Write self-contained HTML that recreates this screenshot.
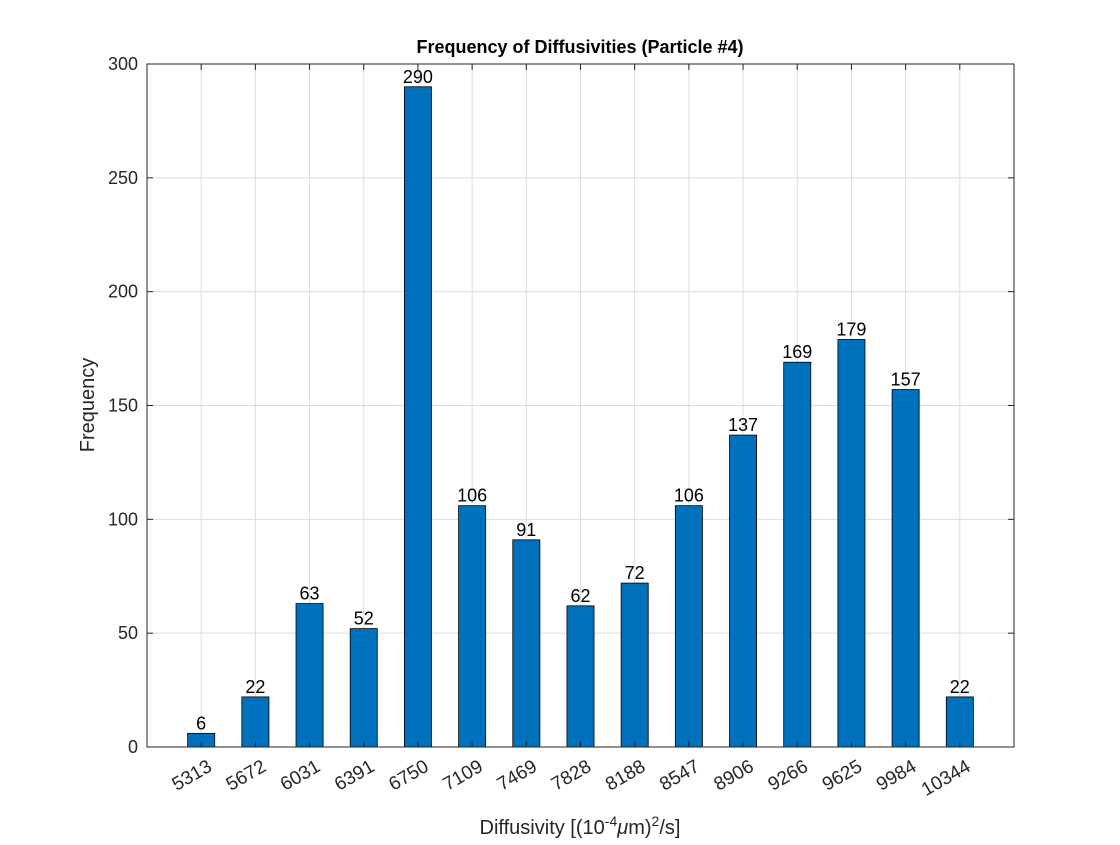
<!DOCTYPE html>
<html><head><meta charset="utf-8"><style>
body{margin:0;background:#fff;}
svg text{font-family:"Liberation Sans",Arial,sans-serif;}
</style></head><body>
<svg id="chart" width="1120" height="840" viewBox="0 0 1120 840"></svg>
<script>
const categories=["5313","5672","6031","6391","6750","7109","7469","7828","8188","8547","8906","9266","9625","9984","10344"];
const counts=[6,22,63,52,290,106,91,62,72,106,137,169,179,157,22];
const yTicks=[0,50,100,150,200,250,300];
const L=147,R=1014,T=64,B=747;
const xs=i=>L+(i+1)*(R-L)/16;
const ys=v=>B-v*(B-T)/300;
const svg=document.getElementById('chart');
const NS='http://www.w3.org/2000/svg';
function mk(tag,attrs,parent){const e=document.createElementNS(NS,tag);for(const k in attrs)e.setAttribute(k,attrs[k]);(parent||svg).appendChild(e);return e;}
const grid=mk('g',{});


yTicks.forEach(v=>{mk('line',{x1:L,x2:R,y1:ys(v),y2:ys(v),stroke:'#dcdcdc','stroke-width':1},grid);});
categories.forEach((c,i)=>{mk('line',{x1:xs(i),x2:xs(i),y1:T,y2:B,stroke:'#dcdcdc','stroke-width':1},grid);});
const bars=mk('g',{});


const bw=0.5*(R-L)/16;
counts.forEach((v,i)=>{
  const r=mk('rect',{x:xs(i)-bw/2,y:ys(v),width:bw,height:ys(0)-ys(v),fill:'#0072bd',stroke:'#000','stroke-width':0.8},bars);
  
  
  const t=mk('text',{x:xs(i),y:ys(v)-4,'text-anchor':'middle','font-size':18,fill:'#000'},bars);
  t.textContent=v;
  
  
});
const ax=mk('g',{});


mk('rect',{x:L,y:T,width:R-L,height:B-T,fill:'none',stroke:'#262626','stroke-width':1},ax);
yTicks.forEach(v=>{
  mk('line',{x1:L,x2:L+6,y1:ys(v),y2:ys(v),stroke:'#262626'},ax);
  mk('line',{x1:R,x2:R-6,y1:ys(v),y2:ys(v),stroke:'#262626'},ax);
  const t=mk('text',{x:L-9,y:ys(v)+6,'text-anchor':'end','font-size':18,fill:'#262626'},ax);
  t.textContent=v;
  
  
});
categories.forEach((c,i)=>{
  mk('line',{x1:xs(i),x2:xs(i),y1:B,y2:B-6,stroke:'#262626'},ax);
  mk('line',{x1:xs(i),x2:xs(i),y1:T,y2:T+6,stroke:'#262626'},ax);
  const x=xs(i)+12,y=B+23;
  const t=mk('text',{x:x,y:y,'text-anchor':'end','font-size':19,fill:'#262626',transform:`rotate(-30 ${x} ${y})`},ax);
  t.textContent=c;
  
  
});
</script>
<svg width="1120" height="840" style="position:absolute;left:0;top:0">
<text x="580" y="53" text-anchor="middle" font-size="18" font-weight="bold" fill="#000">Frequency of Diffusivities (Particle #4)</text>
<text x="580" y="834" text-anchor="middle" font-size="20" fill="#262626">Diffusivity [(10<tspan dy="-8" font-size="14">-4</tspan><tspan dy="8" font-style="italic">μ</tspan>m)<tspan dy="-8" font-size="14">2</tspan><tspan dy="8">/s]</tspan></text>
<text x="94" y="405" text-anchor="middle" font-size="20" fill="#262626" transform="rotate(-90 94 405)">Frequency</text>
</svg>
</body></html>
